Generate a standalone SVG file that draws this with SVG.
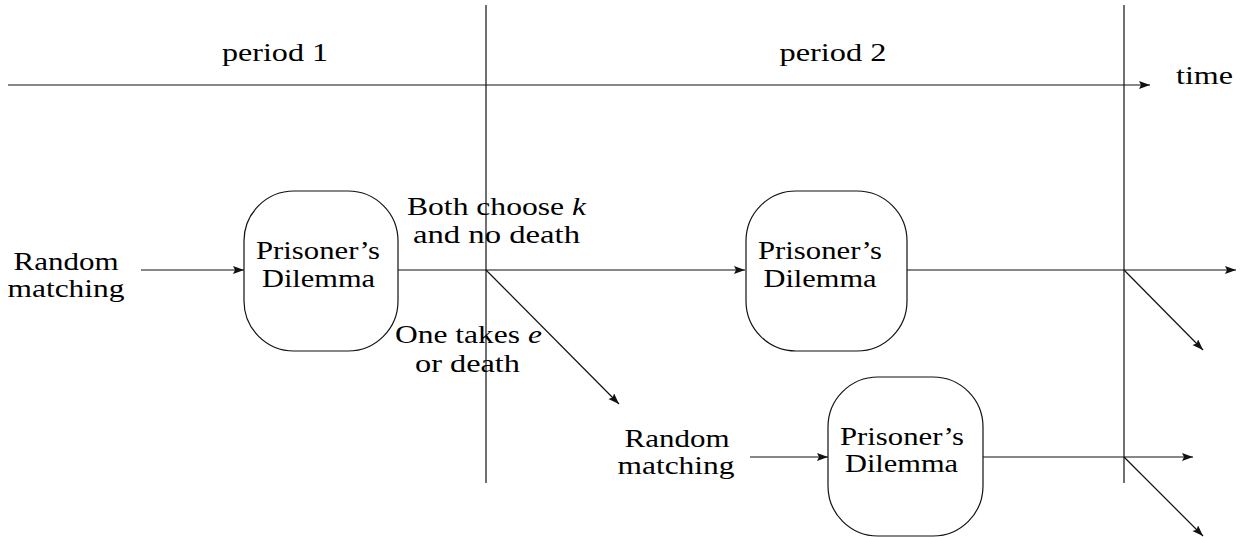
<svg xmlns="http://www.w3.org/2000/svg" width="1249" height="537" viewBox="0 0 1249 537" font-family="'Liberation Serif', 'DejaVu Serif', serif">
<style>
  text { font-family: 'Liberation Serif', 'DejaVu Serif', serif; font-size: 25px; fill: #000; text-anchor: middle; }
  .ln { stroke: #111; stroke-width: 1.2; fill: none; }
  .arr { marker-end: url(#ah); }
  .box { fill: #fff; stroke: #111; stroke-width: 1.2; }
  .it { font-style: italic; }
</style>
<defs>
  <marker id="ah" markerUnits="userSpaceOnUse" markerWidth="12" markerHeight="9" refX="11" refY="4" orient="auto">
    <path d="M0,0 L11,4 L0,8 L2,4 z" fill="#111"/>
  </marker>
</defs>
<g id="connectors">
  <line class="ln arr" x1="8" y1="85" x2="1150" y2="85"/>
  <line class="ln" x1="486" y1="5" x2="486" y2="483"/>
  <line class="ln" x1="1124" y1="5" x2="1124" y2="483"/>
  <line class="ln arr" x1="141" y1="270" x2="244" y2="270"/>
  <line class="ln arr" x1="398" y1="270" x2="745" y2="270"/>
  <line class="ln arr" x1="486" y1="270" x2="619" y2="404"/>
  <line class="ln arr" x1="907" y1="270" x2="1236" y2="270"/>
  <line class="ln arr" x1="1124" y1="270" x2="1203" y2="350"/>
  <line class="ln arr" x1="750" y1="457" x2="828" y2="457"/>
  <line class="ln arr" x1="983" y1="457" x2="1193" y2="457"/>
  <line class="ln arr" x1="1124" y1="457" x2="1203" y2="536"/>
</g>
<g id="labels">
  <text x="275" y="61" textLength="106" lengthAdjust="spacingAndGlyphs">period 1</text>
  <text x="833" y="61" textLength="107" lengthAdjust="spacingAndGlyphs">period 2</text>
  <text x="1204.5" y="84" textLength="57" lengthAdjust="spacingAndGlyphs">time</text>
  <text x="496.5" y="215" textLength="179" lengthAdjust="spacingAndGlyphs">Both choose <tspan class="it">k</tspan></text>
  <text x="496.5" y="243" textLength="167" lengthAdjust="spacingAndGlyphs">and no death</text>
  <text x="468.5" y="343" textLength="147" lengthAdjust="spacingAndGlyphs">One takes <tspan class="it">e</tspan></text>
  <text x="467.5" y="372" textLength="105" lengthAdjust="spacingAndGlyphs">or death</text>
</g>
<g id="random1">
  <text x="66" y="270" textLength="105" lengthAdjust="spacingAndGlyphs">Random</text>
  <text x="66" y="297" textLength="117" lengthAdjust="spacingAndGlyphs">matching</text>
</g>
<g id="pd1">
  <rect class="box" x="244" y="191" width="154" height="160" rx="50" ry="50"/>
  <text x="318" y="259" textLength="124" lengthAdjust="spacingAndGlyphs">Prisoner’s</text>
  <text x="318.5" y="287" textLength="113" lengthAdjust="spacingAndGlyphs">Dilemma</text>
</g>
<g id="pd2">
  <rect class="box" x="746" y="191" width="161" height="160" rx="50" ry="50"/>
  <text x="820" y="259" textLength="124" lengthAdjust="spacingAndGlyphs">Prisoner’s</text>
  <text x="820" y="287" textLength="113" lengthAdjust="spacingAndGlyphs">Dilemma</text>
</g>
<g id="random2">
  <text x="677" y="447" textLength="105" lengthAdjust="spacingAndGlyphs">Random</text>
  <text x="676" y="474" textLength="117" lengthAdjust="spacingAndGlyphs">matching</text>
</g>
<g id="pd3">
  <rect class="box" x="828" y="377" width="155" height="159" rx="50" ry="50"/>
  <text x="902" y="445" textLength="124" lengthAdjust="spacingAndGlyphs">Prisoner’s</text>
  <text x="901.5" y="472" textLength="113" lengthAdjust="spacingAndGlyphs">Dilemma</text>
</g>
</svg>
